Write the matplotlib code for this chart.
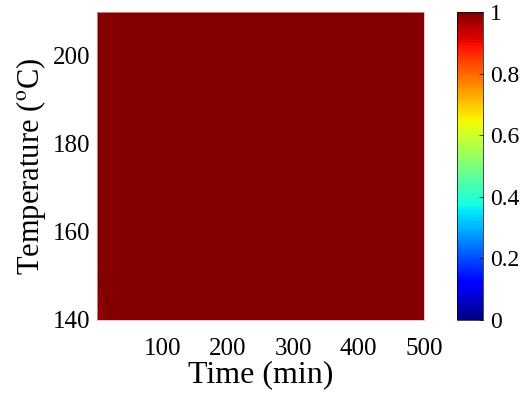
import numpy as np
import matplotlib.pyplot as plt

plt.rcParams['font.family'] = ['Liberation Serif', 'DejaVu Serif']
plt.rcParams['mathtext.fontset'] = 'stix'

# grid (time in min, temperature in C)
time_min = [0, 10, 20, 40, 100, 200, 300, 400, 500]
temp_c = [140, 143, 146, 150, 160, 180, 200, 210]
# conversion values; almost all saturated at 1, slight dip in the low corner
conv = np.array([
    [0.955, 0.975, 0.988, 0.997, 1.0, 1.0, 1.0, 1.0, 1.0],
    [0.965, 0.982, 0.992, 0.999, 1.0, 1.0, 1.0, 1.0, 1.0],
    [0.978, 0.990, 0.997, 1.0, 1.0, 1.0, 1.0, 1.0, 1.0],
    [0.990, 0.997, 1.0, 1.0, 1.0, 1.0, 1.0, 1.0, 1.0],
    [1.0, 1.0, 1.0, 1.0, 1.0, 1.0, 1.0, 1.0, 1.0],
    [1.0, 1.0, 1.0, 1.0, 1.0, 1.0, 1.0, 1.0, 1.0],
    [1.0, 1.0, 1.0, 1.0, 1.0, 1.0, 1.0, 1.0, 1.0],
    [1.0, 1.0, 1.0, 1.0, 1.0, 1.0, 1.0, 1.0, 1.0],
])
cbar_ticks = [0, 0.2, 0.4, 0.6, 0.8, 1]
cbar_labels = ['0', '0.2', '0.4', '0.6', '0.8', '1']

fig = plt.figure(figsize=(5.22, 3.99), dpi=100)
ax = fig.add_axes([0.186, 0.198, 0.626, 0.772])
cax = fig.add_axes([0.875, 0.198, 0.050, 0.772])

T, Y = np.meshgrid(time_min, temp_c)
levels = np.linspace(0, 1, 101)
cf = ax.contourf(T, Y, conv, levels=levels, cmap='jet', vmin=0, vmax=1)
line_levels = [l for l in levels if 0.94 < l < 0.999]
ax.contour(T, Y, conv, levels=line_levels, colors='black', linewidths=0.4, alpha=0.45)

ax.set_xlim(0, 500)
ax.set_ylim(140, 210)
ax.set_xticks([100, 200, 300, 400, 500])
ax.set_yticks([140, 160, 180, 200])
ax.tick_params(axis='x', labelsize=18, length=0, pad=13)
ax.tick_params(axis='y', labelsize=18, length=0, pad=5)
ax.set_xlabel('Time (min)', fontsize=23, labelpad=0)
ax.set_ylabel(r'Temperature ($^{\rm o}$C)', fontsize=22, labelpad=3)
for s in ax.spines.values():
    s.set_linewidth(0.5)
    s.set_color('#d8b0b0')

cb = fig.colorbar(cf, cax=cax, ticks=cbar_ticks)
cb.ax.set_yticklabels(cbar_labels)
cb.ax.tick_params(labelsize=17, direction='in', length=3, width=0.5, pad=5)
cb.outline.set_linewidth(0.5)

fig.savefig('out.png', dpi=100)
